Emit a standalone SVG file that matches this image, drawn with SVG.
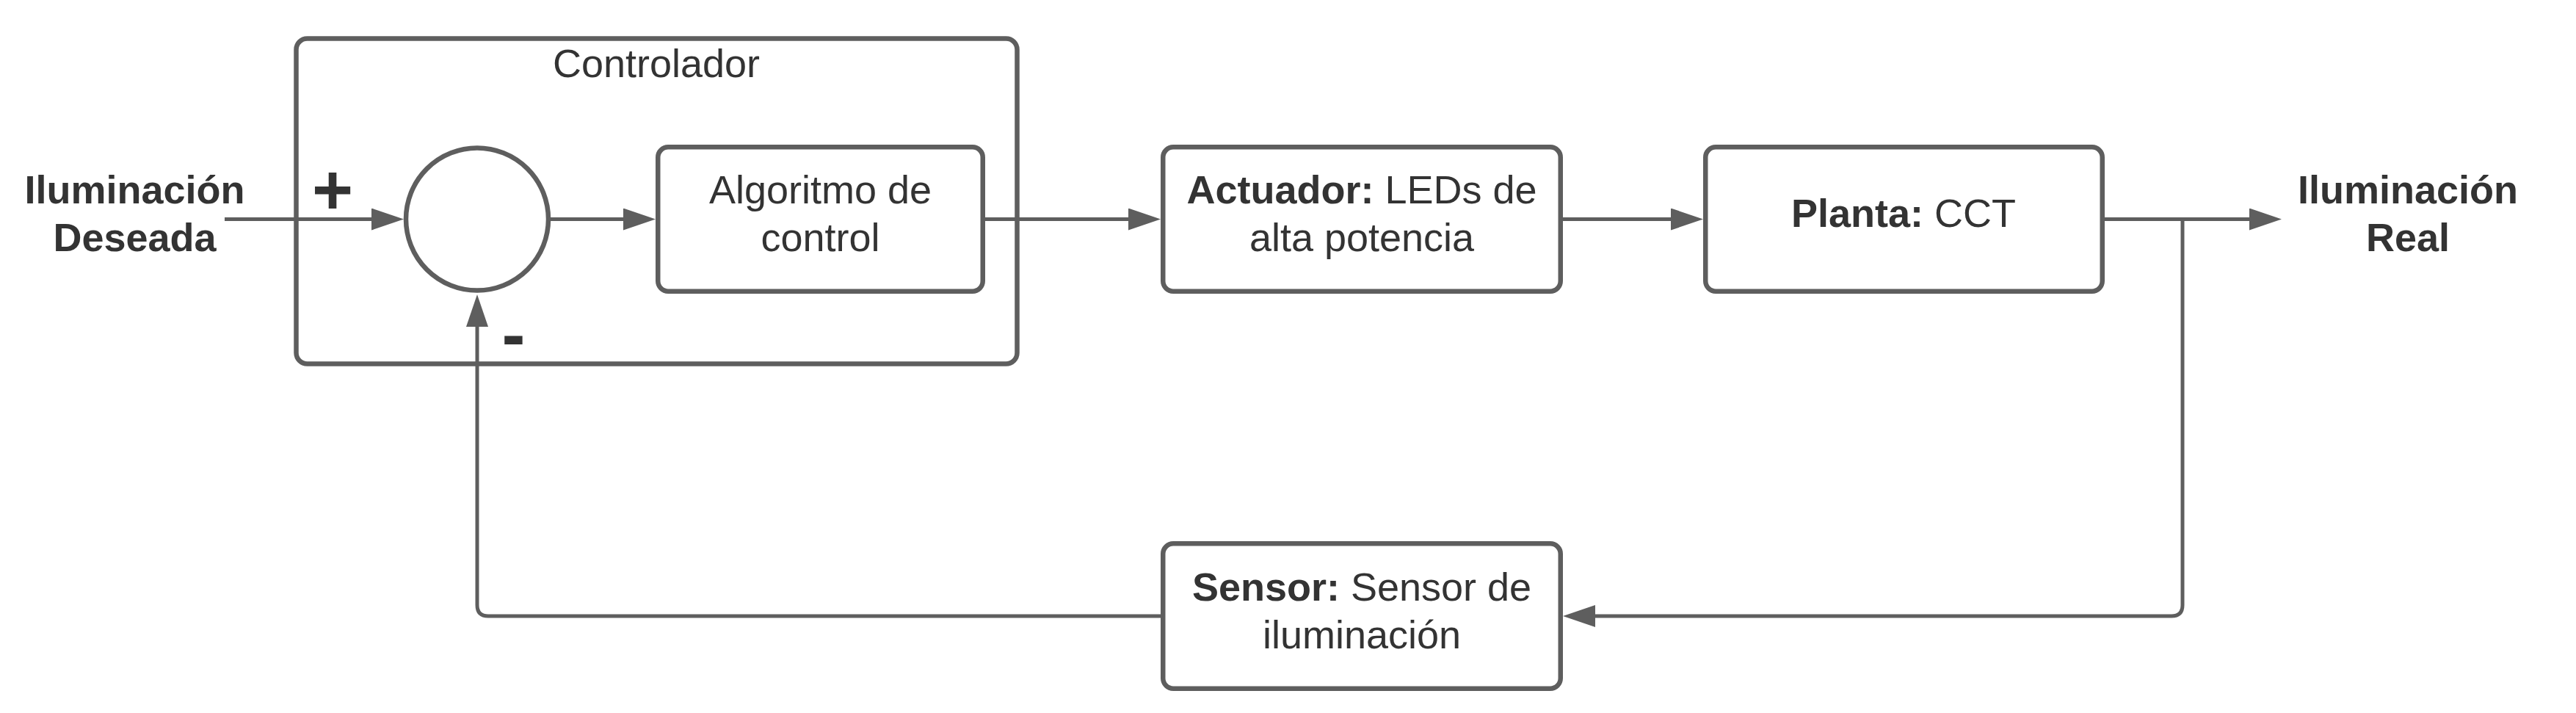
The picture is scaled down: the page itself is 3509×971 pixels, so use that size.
<svg xmlns="http://www.w3.org/2000/svg" width="3509" height="971" viewBox="0 0 3509 971">
<style>
.box{fill:#ffffff;stroke:#5e5e5e;stroke-width:6.5}
.grp{fill:none;stroke:#5e5e5e;stroke-width:6.5}
.conn{fill:none;stroke:#5e5e5e;stroke-width:5}
.t{font-family:"Liberation Sans",Arial,sans-serif;font-size:54px;fill:#333333;text-anchor:middle}
.b{font-weight:bold}
.sign{font-family:"Liberation Sans",Arial,sans-serif;font-size:96px;font-weight:bold;fill:#333333;text-anchor:middle}
</style>
<defs>
<marker id="arr" markerUnits="userSpaceOnUse" markerWidth="44" markerHeight="30" refX="0" refY="15" orient="auto" viewBox="0 0 44 30">
<path d="M0,0 L44,15 L0,30 Z" fill="#5e5e5e"/>
</marker>
</defs>
<rect width="3509" height="971" fill="#ffffff"/>

<g id="controlador">
<rect class="grp" x="403.5" y="52.5" width="982" height="443" rx="15"/>
<text class="t" x="894" y="105">Controlador</text>
</g>

<g id="sumador">
<circle class="box" cx="650" cy="298.5" r="97"/>
</g>

<g id="algoritmo">
<rect class="box" x="896.25" y="200.25" width="442.5" height="196.5" rx="14"/>
<text class="t" x="1117.5" y="277">Algoritmo de</text>
<text class="t" x="1117.5" y="342">control</text>
</g>

<g id="actuador">
<rect class="box" x="1584.25" y="200.25" width="541.5" height="196.5" rx="14"/>
<text class="t" x="1855" y="277"><tspan class="b">Actuador:</tspan> LEDs de</text>
<text class="t" x="1855" y="342">alta potencia</text>
</g>

<g id="planta">
<rect class="box" x="2323.25" y="200.25" width="540.5" height="196.5" rx="14"/>
<text class="t" x="2593" y="309"><tspan class="b">Planta:</tspan> CCT</text>
</g>

<g id="sensor">
<rect class="box" x="1584.25" y="740.25" width="541.5" height="197.5" rx="14"/>
<text class="t" x="1855" y="818"><tspan class="b">Sensor:</tspan> Sensor de</text>
<text class="t" x="1855" y="883">iluminación</text>
</g>

<g id="entrada">
<text class="t b" x="183.5" y="277">Iluminación</text>
<text class="t b" x="183.5" y="342">Deseada</text>
</g>

<g id="salida">
<text class="t b" x="3280" y="277">Iluminación</text>
<text class="t b" x="3280" y="342">Real</text>
</g>

<g id="signos">
<text class="sign" x="453" y="292">+</text>
<text class="sign" x="699.5" y="488">-</text>
</g>

<g id="conectores">
<path class="conn" d="M306,298.5 H506" marker-end="url(#arr)"/>
<path class="conn" d="M750,298.5 H849" marker-end="url(#arr)"/>
<path class="conn" d="M1342,298.5 H1537" marker-end="url(#arr)"/>
<path class="conn" d="M2129,298.5 H2276" marker-end="url(#arr)"/>
<path class="conn" d="M2866,298.5 H3064" marker-end="url(#arr)"/>
<path class="conn" d="M2973,298.5 V824 Q2973,839 2958,839 H2173" marker-end="url(#arr)"/>
<path class="conn" d="M1581,839 H665 Q650,839 650,824 V445" marker-end="url(#arr)"/>
</g>
</svg>
